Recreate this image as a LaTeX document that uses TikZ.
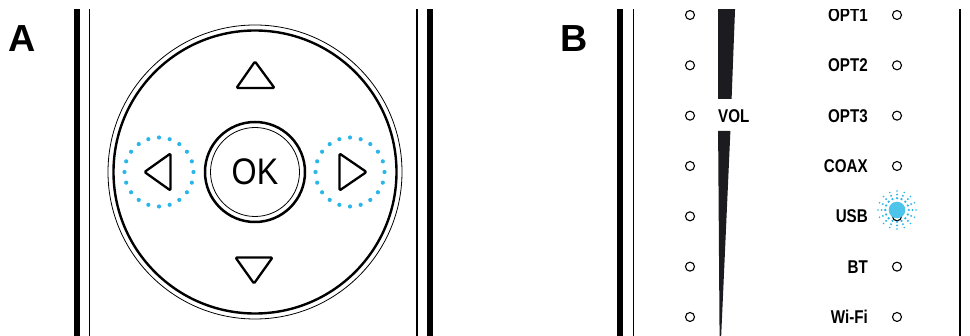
\documentclass[tikz,border=0pt]{standalone}
\usepackage{fontspec}
\usepackage{xcolor}
\setmainfont{Liberation Sans}
\newfontfamily\labelfont[FakeStretch=0.82]{Liberation Sans Bold}
\newfontfamily\okfont[FakeStretch=0.87]{Liberation Sans}
\definecolor{dotblue}{HTML}{2BB6E9}
\definecolor{ledblue}{HTML}{4DC5EA}
\definecolor{wedgegray}{HTML}{1C1B20}

\begin{document}
\begin{tikzpicture}[x=1pt, y=-1pt,
    panel/.style={font=\bfseries\fontsize{37.7}{38}\selectfont, anchor=base west, inner sep=0pt},
    led/.style={draw, circle, line width=1.1pt, minimum size=9pt, inner sep=0pt},
    source/.style={anchor=east, inner sep=0pt, font=\labelfont\fontsize{18.5}{18.5}\selectfont},
    arrowkey/.style={line width=2.3pt, rounded corners=1.2pt, line join=round}]
    \useasboundingbox (0,0) rectangle (970,336);
    \clip (0,9.5) rectangle (970,336);

    % Panel letters
    \node[panel] (labA) at (8,52) {A};
    \node[panel] (labB) at (560,52) {B};

    % Remote body A
    \draw[line width=5.5pt] (77,0) -- (77,336);
    \draw[line width=1.2pt] (89.5,0) -- (89.5,336);
    \draw[line width=1.2pt] (417,0) -- (417,336);
    \draw[line width=5.5pt] (430,0) -- (430,336);

    % Direction pad
    \node[draw, circle, line width=0.8pt, minimum size=294pt, inner sep=0pt] (pad) at (255,172) {};
    \node[draw, circle, line width=2.4pt, minimum size=283pt, inner sep=0pt] (padin) at (pad) {};
    \node[draw, circle, line width=2.5pt, minimum size=100pt, inner sep=0pt] (okring) at (pad) {};
    \node[draw, circle, line width=0.8pt, minimum size=89pt, inner sep=0pt] (okin) at (pad) {};
    \node[font=\okfont\fontsize{37}{37}\selectfont, inner sep=0pt] (ok) at (pad) {OK};

    % Arrow keys
    \draw[arrowkey] (255,61.5) -- (274.5,88) -- (236.5,88) -- cycle;
    \draw[arrowkey] (254,283.5) -- (272.5,257.5) -- (235.5,257.5) -- cycle;
    \draw[arrowkey] (144.5,172) -- (170.5,153.5) -- (170.5,190.5) -- cycle;
    \draw[arrowkey] (366.5,172) -- (339.5,153.5) -- (339.5,190.5) -- cycle;

    % Highlighted keys
    \coordinate (leftkey) at (159,172);
    \coordinate (rightkey) at (350,172);
    \foreach \k in {leftkey,rightkey}
        \foreach \a in {0,18,...,342}
            \fill[dotblue] (\k) ++(\a:34.5) circle (2.1pt);

    % Remote body B
    \draw[line width=5.5pt] (620,0) -- (620,336);
    \draw[line width=1.2pt] (633.5,0) -- (633.5,336);
    \draw[line width=1.2pt] (960,0) -- (960,336);

    % Volume bar
    \fill[wedgegray] (718,0) -- (735.4,0) -- (731.6,99) -- (718,99) -- cycle;
    \fill[wedgegray] (718.1,131) -- (730.4,131) -- (721,340) -- (719.6,340) -- cycle;
    \node[source, anchor=west] (vol) at (718,116) {VOL};

    % LEDs and sources
    \foreach \s [count=\i from 0] in {OPT1,OPT2,OPT3,COAX,USB,BT,Wi-Fi} {
        \node[led] (vled\i) at (690,15+50.33*\i) {};
        \node[led] (sled\i) at (897,15+50.33*\i) {};
        \node[source] (src\i) at (868,15+50.33*\i) {\s};
    }

    % Active source
    \node[circle, fill=ledblue, minimum size=16.6pt, inner sep=0pt] (usbon) at (897,210) {};
    \foreach \a in {0,22.5,...,337.5} {
        \fill[dotblue] (usbon) ++(\a:11.8) circle (1.3pt);
        \fill[dotblue] (usbon) ++(\a:15.4) circle (1.1pt);
        \fill[dotblue] (usbon) ++(\a:19) circle (0.9pt);
    }
\end{tikzpicture}
\end{document}
